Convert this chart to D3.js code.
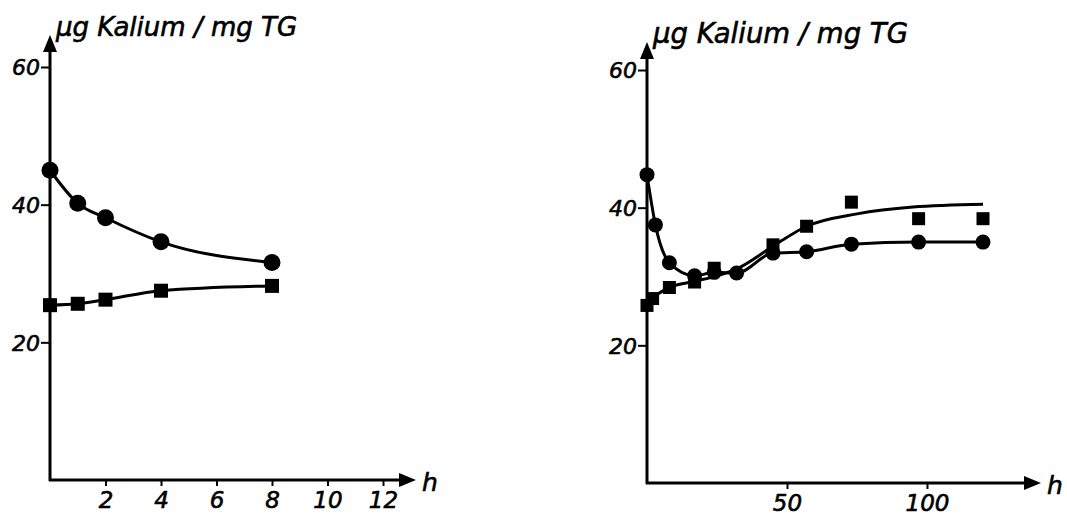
<!DOCTYPE html>
<html>
<head>
<meta charset="utf-8">
<script src="https://cdn.jsdelivr.net/npm/d3@7"></script>
<style>
  body { margin: 0; background: #fff; }
  svg { display: block; }
  text { font-family: "DejaVu Sans", sans-serif; font-style: italic; fill: #000; stroke: #000; stroke-width: 0.6px; }
</style>
</head>
<body>
<svg id="chart" width="1067" height="517"></svg>
<script>
// data (h, µg Kalium / mg TG)
const leftCircleT = [0, 1, 2, 4, 8];
const leftCircleV = [45.0, 40.2, 38.1, 34.6, 31.6];
const leftSquareT = [0, 1, 2, 4, 8];
const leftSquareV = [25.4, 25.6, 26.2, 27.5, 28.2];

const rightCircleT = [0, 3, 8, 17, 24, 32, 45, 57, 73, 97, 120];
const rightCircleV = [44.8, 37.5, 32.0, 30.1, 30.6, 30.5, 33.4, 33.6, 34.7, 35.0, 35.0];
const rightSquareT = [0, 2, 8, 17, 24, 45, 57, 73, 97, 120];
const rightSquareV = [25.8, 26.8, 28.4, 29.2, 31.2, 34.6, 37.3, 40.8, 38.4, 38.4];
// drawn fit line for the squares
const rightSquareLineT = [0, 2, 8, 17, 25, 33, 45, 57, 75, 95, 120];
const rightSquareLineV = [25.8, 26.8, 28.4, 29.3, 30.1, 31.3, 34.4, 37.3, 39.1, 40.1, 40.5];

const leftXTicks = [2, 4, 6, 8, 10, 12];
const rightXTicks = [50, 100];
const yTicks = [20, 40, 60];
const yLabel = "µg Kalium / mg TG";

const svg = d3.select("#chart");

function zip(ts, vs) { return ts.map((t, i) => ({ t: t, v: vs[i] })); }

function drawPanel(cfg) {
  const x = d3.scaleLinear().domain(cfg.xDomain).range(cfg.xRange);
  const y = d3.scaleLinear().domain([0, 60]).range(cfg.yRange);
  const g = svg.append("g");
  const x0 = x(0), y0 = y(0);

  // axes lines
  g.append("line").attr("x1", x0).attr("x2", x0).attr("y1", y0 + 1).attr("y2", cfg.yTop + 12)
    .attr("stroke", "#000").attr("stroke-width", 3);
  g.append("path")
    .attr("d", `M${x0},${cfg.yTop} L${x0 - 7},${cfg.yTop + 17} L${x0 + 7},${cfg.yTop + 17} Z`)
    .attr("fill", "#000");
  g.append("line").attr("x1", x0 - 1).attr("x2", cfg.xTip - 12).attr("y1", y0).attr("y2", y0)
    .attr("stroke", "#000").attr("stroke-width", 3);
  g.append("path")
    .attr("d", `M${cfg.xTip},${y0} L${cfg.xTip - 17},${y0 - 7} L${cfg.xTip - 17},${y0 + 7} Z`)
    .attr("fill", "#000");

  // y ticks
  const yAxis = g.append("g").attr("transform", `translate(${x0},0)`)
    .call(d3.axisLeft(y).tickValues(yTicks).tickSize(9).tickPadding(1));
  yAxis.select(".domain").remove();
  yAxis.selectAll(".tick line").attr("stroke", "#000").attr("stroke-width", 2);
  yAxis.selectAll(".tick text").attr("font-size", 22).attr("font-family", null)
    .style("font-style", "italic").attr("dy", "0.36em");

  // x ticks
  const xAxis = g.append("g").attr("transform", `translate(0,${y0})`)
    .call(d3.axisBottom(x).tickValues(cfg.xTicks).tickSize(6).tickPadding(6));
  xAxis.select(".domain").remove();
  xAxis.selectAll(".tick line").attr("stroke", "#000").attr("stroke-width", 2);
  xAxis.selectAll(".tick text").attr("font-size", 23).attr("font-family", null)
    .style("font-style", "italic");

  // axis labels
  g.append("text").attr("x", x0 + 6).attr("y", cfg.yTop + 1)
    .attr("font-size", cfg.labelSize).text(yLabel);
  g.append("text").attr("x", cfg.xTip + 6).attr("y", y0 + 11)
    .attr("font-size", 25).text("h");

  const line = d3.line().x(d => x(d.t)).y(d => y(d.v)).curve(d3.curveMonotoneX);

  g.append("path").datum(cfg.circleLine)
    .attr("d", line)
    .attr("fill", "none").attr("stroke", "#000").attr("stroke-width", 3);
  g.append("path").datum(cfg.squareLine)
    .attr("d", line)
    .attr("fill", "none").attr("stroke", "#000").attr("stroke-width", 3);

  g.selectAll(".sq").data(cfg.squares).join("rect")
    .attr("x", d => x(d.t) - cfg.sq / 2).attr("y", d => y(d.v) - cfg.sq / 2)
    .attr("width", cfg.sq).attr("height", cfg.sq).attr("fill", "#000");
  g.selectAll(".ci").data(cfg.circles).join("circle")
    .attr("cx", d => x(d.t)).attr("cy", d => y(d.v)).attr("r", cfg.r).attr("fill", "#000");
}

drawPanel({
  xDomain: [0, 12], xRange: [50, 383], yRange: [480, 67], yTop: 35, xTip: 416,
  xTicks: leftXTicks, r: 8.5, sq: 14, labelSize: 26,
  circles: zip(leftCircleT, leftCircleV), squares: zip(leftSquareT, leftSquareV),
  circleLine: zip(leftCircleT, leftCircleV), squareLine: zip(leftSquareT, leftSquareV)
});

drawPanel({
  xDomain: [0, 100], xRange: [647, 927], yRange: [483, 70], yTop: 42, xTip: 1041,
  xTicks: rightXTicks, r: 7.5, sq: 13, labelSize: 27.5,
  circles: zip(rightCircleT, rightCircleV), squares: zip(rightSquareT, rightSquareV),
  circleLine: zip(rightCircleT, rightCircleV), squareLine: zip(rightSquareLineT, rightSquareLineV)
});
</script>
</body>
</html>
